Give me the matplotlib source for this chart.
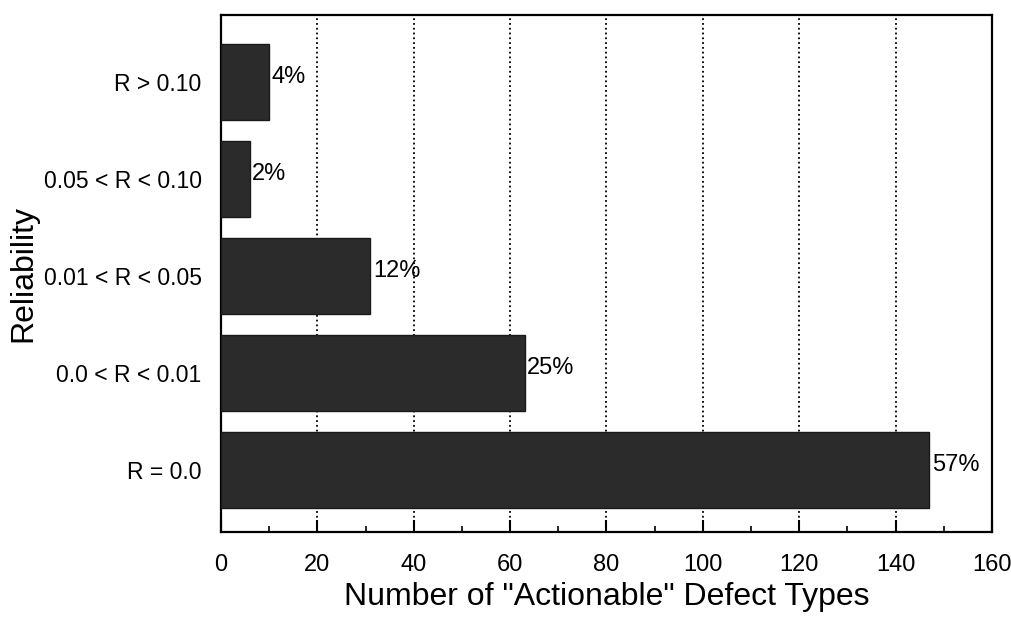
import numpy as np
import matplotlib
matplotlib.use("Agg")
from matplotlib import pyplot as plt
from matplotlib.ticker import MultipleLocator

plt.rcParams['font.family'] = ['Liberation Sans', 'DejaVu Sans']

# reliability classes, bottom to top
categories = ["R = 0.0", "0.0 < R < 0.01", "0.01 < R < 0.05", "0.05 < R < 0.10", "R > 0.10"]
counts = [147, 63, 31, 6, 10]
pct_labels = ["57%", "25%", "12%", "2%", "4%"]

fig = plt.figure(figsize=(10.11, 6.21), dpi=100)
ax = fig.add_axes([0.2186, 0.1433, 0.7626, 0.8325])

ypos = np.arange(len(categories))
ax.barh(ypos, counts, height=0.78, color='#2b2b2b', edgecolor='#1a1a1a', zorder=3)

for y, c, lab in zip(ypos, counts, pct_labels):
    ax.text(c + 0.5, y + 0.05, lab, va='center', ha='left', fontsize=17, zorder=4)

ax.set_xlim(0, 160)
ax.set_ylim(-0.64, 4.69)
ax.set_yticks(ypos)
ax.set_yticklabels(categories, fontsize=16.5)
ax.xaxis.set_major_locator(MultipleLocator(20))
ax.xaxis.set_minor_locator(MultipleLocator(10))
ax.tick_params(axis='x', which='major', direction='in', length=9, width=1.5, labelsize=17, pad=16)
ax.tick_params(axis='x', which='minor', direction='in', length=4, width=1.2)
ax.tick_params(axis='y', length=0, pad=14)
ax.tick_params(top=False, right=False)

ax.grid(axis='x', which='major', linestyle=':', color='black', linewidth=1.3, zorder=1)

for s in ax.spines.values():
    s.set_linewidth(1.6)

ax.set_xlabel('Number of "Actionable" Defect Types', fontsize=23, labelpad=4)
ax.set_ylabel('Reliability', fontsize=23, labelpad=4)

fig.savefig("out.png", dpi=100)
